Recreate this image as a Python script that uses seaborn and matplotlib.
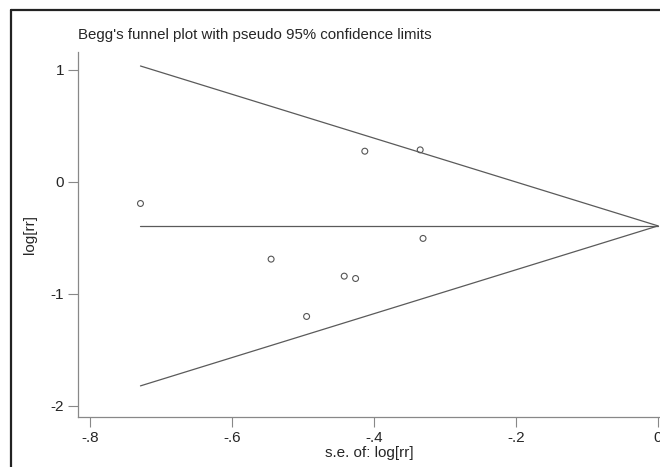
import numpy as np
import pandas as pd
import matplotlib
matplotlib.use("Agg")
import matplotlib.pyplot as plt
import seaborn as sns
from matplotlib.lines import Line2D

# study estimates
se = [-0.729, -0.413, -0.335, -0.331, -0.545, -0.442, -0.426, -0.495]
log_rr = [-0.193, 0.274, 0.286, -0.505, -0.690, -0.842, -0.863, -1.202]

# pooled estimate and pseudo 95% limits
pooled_x = [-0.729, 0.0]
pooled_y = [-0.393, -0.393]
upper_y = [1.035, -0.393]
lower_y = [-1.822, -0.393]

xticks = [-0.8, -0.6, -0.4, -0.2, 0.0]
xtick_labels = ['-.8', '-.6', '-.4', '-.2', '0']
yticks = [1, 0, -1, -2]

sns.set_style('white')
plt.rcParams['font.family'] = ['Liberation Sans', 'DejaVu Sans']
plt.rcParams['axes.unicode_minus'] = False

df = pd.DataFrame({'se': se, 'log_rr': log_rr})
lim = pd.DataFrame({'x': pooled_x, 'mid': pooled_y, 'up': upper_y, 'lo': lower_y})

fig = plt.figure(figsize=(6.6, 4.67), dpi=100)
ax = fig.add_axes([78 / 660, 1 - 417 / 467, 582 / 660, 365 / 467])

line_col = '#5a5a5a'
for col in ['up', 'mid', 'lo']:
    sns.lineplot(data=lim, x='x', y=col, ax=ax, color=line_col, lw=0.9)
sns.scatterplot(data=df, x='se', y='log_rr', ax=ax, marker='o', s=18,
                facecolor='none', edgecolor='#555555', linewidth=0.8)

ax.set_xlim(-0.817, 0.0028)
ax.set_ylim(-2.1, 1.16)
ax.set_xticks(xticks)
ax.set_xticklabels(xtick_labels)
ax.set_yticks(yticks)
ax.set_yticklabels([str(t) for t in yticks])
ax.tick_params(axis='both', length=7, width=0.8, color='#888888',
               labelsize=11, pad=3, direction='out')
ax.tick_params(axis='x', bottom=True)
ax.tick_params(axis='y', left=True)
for s in ['top', 'right']:
    ax.spines[s].set_visible(False)
for s in ['left', 'bottom']:
    ax.spines[s].set_color('#888888')
    ax.spines[s].set_linewidth(0.9)

ax.set_xlabel('s.e. of: log[rr]', fontsize=11, labelpad=1)
ax.set_ylabel('log[rr]', fontsize=11, labelpad=10)
fig.text(78 / 660, 1 - 35 / 467, "Begg's funnel plot with pseudo 95% confidence limits",
         fontsize=10.8, ha='left', va='center')

# outer frame visible on top and left
fig.add_artist(Line2D([11 / 660, 1.0], [1 - 10 / 467, 1 - 10 / 467],
                      transform=fig.transFigure, color='#222222', lw=1.6))
fig.add_artist(Line2D([11 / 660, 11 / 660], [0.0, 1 - 10 / 467],
                      transform=fig.transFigure, color='#222222', lw=1.6))

fig.savefig('out.png', dpi=100)
